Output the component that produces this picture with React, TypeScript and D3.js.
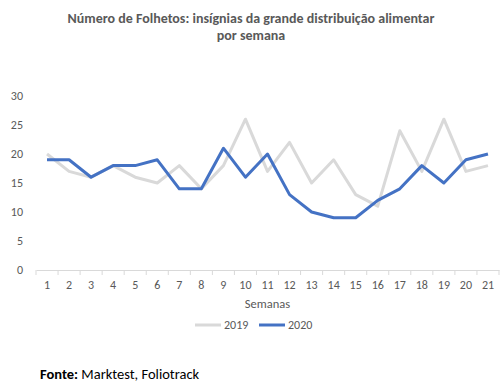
import React from 'react';
import * as d3 from 'd3';

const weeks = ['1','2','3','4','5','6','7','8','9','10','11','12','13','14','15','16','17','18','19','20','21'];
const values2019 = [20, 17, 16, 18, 16, 15, 18, 14, 18, 26, 17, 22, 15, 19, 13, 11, 24, 17, 26, 17, 18];
const values2020 = [19, 19, 16, 18, 18, 19, 14, 14, 21, 16, 20, 13, 10, 9, 9, 12, 14, 18, 15, 19, 20];
const yTicks = [0, 5, 10, 15, 20, 25, 30];
const seriesNames = ['2019', '2020'];
const seriesColors = ['#d9d9d9', '#4472c4'];

const font = "Calibri, Carlito, Lato, 'Open Sans', sans-serif";

const App = () => {
  const svgRef = React.useRef<SVGSVGElement>(null);

  const width = 502;
  const height = 388;
  const margin = { top: 96, right: 3, bottom: 118, left: 36 };

  React.useEffect(() => {
    const svg = d3.select(svgRef.current);
    svg.selectAll('*').remove();

    const x = d3.scaleBand()
      .domain(weeks)
      .range([margin.left, width - margin.right]);

    const y = d3.scaleLinear()
      .domain([0, 30])
      .range([height - margin.bottom, margin.top]);

    // title
    const title = svg.append('text')
      .attr('text-anchor', 'middle')
      .style('font-family', font)
      .style('font-size', '14px')
      .style('font-weight', 'bold')
      .attr('fill', '#595959');
    title.append('tspan').attr('x', 251).attr('y', 23)
      .text('Número de Folhetos: insígnias da grande distribuição alimentar');
    title.append('tspan').attr('x', 251).attr('y', 40).text('por semana');

    // y labels
    svg.append('g')
      .selectAll('text')
      .data(yTicks)
      .join('text')
      .attr('x', 23)
      .attr('y', d => y(d))
      .attr('dy', '0.35em')
      .attr('text-anchor', 'end')
      .style('font-family', font)
      .style('font-size', '12px')
      .attr('fill', '#595959')
      .text(d => d);

    // x axis
    const xAxis = svg.append('g')
      .attr('transform', `translate(0,${y(0)})`)
      .call(d3.axisBottom(x).tickSize(0).tickPadding(10));
    xAxis.select('.domain').attr('stroke', '#d9d9d9');
    xAxis.selectAll('.tick text')
      .style('font-family', font)
      .style('font-size', '12px')
      .attr('fill', '#595959');
    const bounds = [...weeks.map(w => x(w) as number), width - margin.right];
    xAxis.selectAll('.bound')
      .data(bounds)
      .join('line')
      .attr('x1', d => d)
      .attr('x2', d => d)
      .attr('y1', 0)
      .attr('y2', 5)
      .attr('stroke', '#d9d9d9');

    svg.append('text')
      .attr('x', (margin.left + width - margin.right) / 2)
      .attr('y', 308)
      .attr('text-anchor', 'middle')
      .style('font-family', font)
      .style('font-size', '12.5px')
      .attr('fill', '#595959')
      .text('Semanas');

    const line = d3.line<number>()
      .x((_, i) => (x(weeks[i]) as number) + x.bandwidth() / 2)
      .y(d => y(d));

    [values2019, values2020].forEach((vals, i) => {
      svg.append('path')
        .datum(vals)
        .attr('d', line)
        .attr('fill', 'none')
        .attr('stroke', seriesColors[i])
        .attr('stroke-width', 3)
        .attr('stroke-linejoin', 'round');
    });

    // legend
    const legendX = [195, 259];
    seriesNames.forEach((name, i) => {
      svg.append('line')
        .attr('x1', legendX[i])
        .attr('x2', legendX[i] + 26)
        .attr('y1', 325)
        .attr('y2', 325)
        .attr('stroke', seriesColors[i])
        .attr('stroke-width', 3);
      svg.append('text')
        .attr('x', legendX[i] + 29)
        .attr('y', 325)
        .attr('dy', '0.35em')
        .style('font-family', font)
        .style('font-size', '12px')
        .attr('fill', '#595959')
        .text(name);
    });

    // source
    const src = svg.append('text')
      .attr('x', 40)
      .attr('y', 379)
      .style('font-family', font)
      .style('font-size', '14.5px')
      .attr('fill', '#000');
    src.append('tspan').style('font-weight', 'bold').text('Fonte:');
    src.append('tspan').text(' Marktest, Foliotrack');
  // eslint-disable-next-line react-hooks/exhaustive-deps
  }, []);

  return (
    <svg
      ref={svgRef}
      width={width}
      height={height}
      style={{ position: 'absolute', left: 0, top: 0, background: '#fff' }}
    />
  );
};

export default App;
